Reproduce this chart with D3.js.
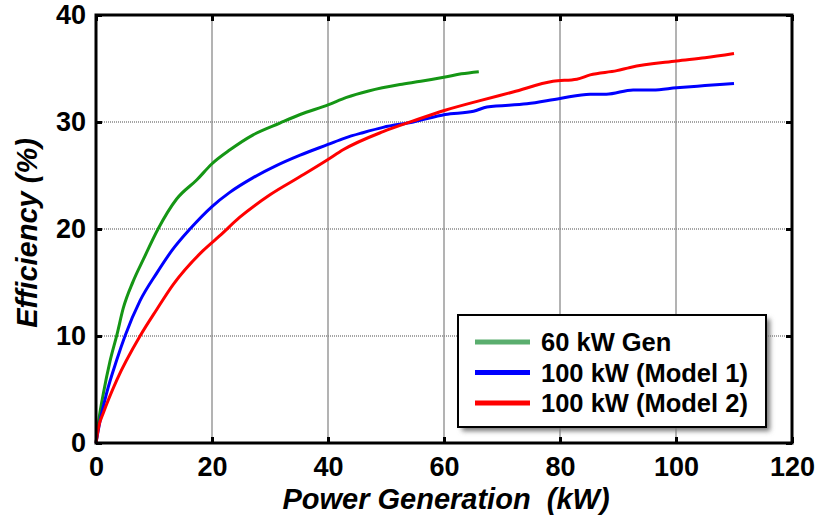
<!DOCTYPE html>
<html><head><meta charset="utf-8">
<script src="https://cdn.jsdelivr.net/npm/d3@7"></script>
<style>body{margin:0;background:#fff}text{font-family:"Liberation Sans",Arial,sans-serif;font-weight:bold}</style>
</head><body><svg id="c" width="819" height="521"></svg>
<script>
const xTicks=[0,20,40,60,80,100,120];
const yTicks=[0,10,20,30,40];
const seriesNames=["60 kW Gen","100 kW (Model 1)","100 kW (Model 2)"];
const genX=[0,0.5,1.26,2.4,3.6,4.7,6.4,8.2,10.7,13.9,17.4,20,23.1,27.1,31.7,35.2,40,43.2,47,52.4,56,60.2,63,66];
const genY=[0,2.2,4.6,7.6,10.1,12.6,15.1,17.2,20.0,22.8,24.6,26.1,27.4,28.8,29.9,30.7,31.6,32.3,32.9,33.5,33.8,34.2,34.5,34.7];
const m1X=[0,0.6,1.8,3.6,5.0,7.6,10.5,13.1,16.2,20,23,27.1,31,35.2,40,42.9,46,49.5,54.7,60.2,65.1,67.4,74.3,80,85.2,88,92.6,96,100.1,105,110];
const m1Y=[0,1.8,4.6,7.8,10.0,13.3,15.9,18.0,20.0,22.1,23.4,24.8,25.9,26.9,27.9,28.5,29.0,29.5,30.0,30.7,31.0,31.4,31.7,32.2,32.6,32.6,33.0,33.0,33.2,33.4,33.6];
const m2X=[0,0.5,1.26,3.6,7.6,10.5,13.3,18.5,21.4,24.8,30,35.2,40,42.6,49.5,54.7,60.2,66.2,71.9,78.8,82.9,85.2,89.8,92.1,100.1,105,110];
const m2Y=[0,1.6,2.8,5.9,10.0,12.5,14.8,18.0,19.4,21.1,23.2,24.9,26.5,27.4,29.1,30.1,31.1,32.0,32.8,33.8,34.0,34.4,34.8,35.1,35.7,36.0,36.4];

const colors=["#159615","#0000ff","#ff0000"];
const legendColors=["#5aae6e","#0000ff","#ff0000"];
const L=96,R=792,T=15,B=443;
const svg=d3.select("#c");
const x=d3.scaleLinear().domain([0,120]).range([L,R]);
const y=d3.scaleLinear().domain([0,40]).range([B,T]);

// grid
svg.append("g").selectAll("line").data(xTicks.slice(1,-1)).join("line")
  .attr("x1",d=>x(d)).attr("x2",d=>x(d)).attr("y1",T).attr("y2",B)
  .attr("stroke","#9a9a9a").attr("stroke-width",1.5);
svg.append("g").selectAll("line").data(yTicks.slice(1,-1)).join("line")
  .attr("x1",L).attr("x2",R).attr("y1",d=>y(d)).attr("y2",d=>y(d))
  .attr("stroke","#888").attr("stroke-width",1.5).attr("stroke-dasharray","1,1");

// axes with labels
svg.append("g").attr("transform",`translate(0,${B})`)
  .call(d3.axisBottom(x).tickValues(xTicks).tickSize(-6).tickPadding(14));
svg.append("g").attr("transform",`translate(${L},0)`)
  .call(d3.axisLeft(y).tickValues(yTicks).tickSize(-6).tickPadding(10));
svg.append("g").attr("transform",`translate(0,${T})`)
  .call(d3.axisTop(x).tickValues(xTicks).tickSize(-6).tickFormat(""));
svg.append("g").attr("transform",`translate(${R},0)`)
  .call(d3.axisRight(y).tickValues(yTicks).tickSize(-6).tickFormat(""));
svg.selectAll(".domain").remove();
svg.selectAll(".tick line").attr("stroke","#000").attr("stroke-width",3);
svg.selectAll(".tick text").attr("font-size",27).attr("fill","#000")
  .style("font-family",'"Liberation Sans",Arial,sans-serif').style("font-weight","bold");

// series
const line=d3.line().x(d=>x(d[0])).y(d=>y(d[1])).curve(d3.curveMonotoneX);
const data=[d3.zip(genX,genY),d3.zip(m1X,m1Y),d3.zip(m2X,m2Y)];
data.forEach((s,i)=>{
  svg.append("path").datum(s).attr("d",line).attr("fill","none")
    .attr("stroke",colors[i]).attr("stroke-width",3).attr("stroke-linejoin","round");
});

// frame
svg.append("rect").attr("x",L).attr("y",T).attr("width",R-L).attr("height",B-T)
  .attr("fill","none").attr("stroke","#000").attr("stroke-width",3);

// axis titles
svg.append("text").attr("x",446).attr("y",509).attr("text-anchor","middle")
  .attr("font-size",29).attr("font-style","italic").text("Power Generation\u00a0 (kW)");
svg.append("text").attr("transform","translate(37,233) rotate(-90)").attr("text-anchor","middle")
  .attr("font-size",29).attr("font-style","italic").text("Efficiency (%)");

// legend
const defs=svg.append("defs");
const f=defs.append("filter").attr("id","sh").attr("x","-10%").attr("y","-10%").attr("width","130%").attr("height","140%");
f.append("feGaussianBlur").attr("stdDeviation",2.5);
const lg=svg.append("g");
lg.append("rect").attr("x",462).attr("y",319).attr("width",308).attr("height",112)
  .attr("fill","#777").attr("filter","url(#sh)");
lg.append("rect").attr("x",458).attr("y",315).attr("width",308).attr("height",112)
  .attr("fill","#fff").attr("stroke","#000").attr("stroke-width",2);
seriesNames.forEach((n,i)=>{
  const yy=342+i*30.5;
  lg.append("line").attr("x1",475).attr("x2",530).attr("y1",yy).attr("y2",yy)
    .attr("stroke",legendColors[i]).attr("stroke-width",5);
  lg.append("text").attr("x",541).attr("y",yy+9).attr("font-size",25.5).text(n);
});
</script></body></html>
